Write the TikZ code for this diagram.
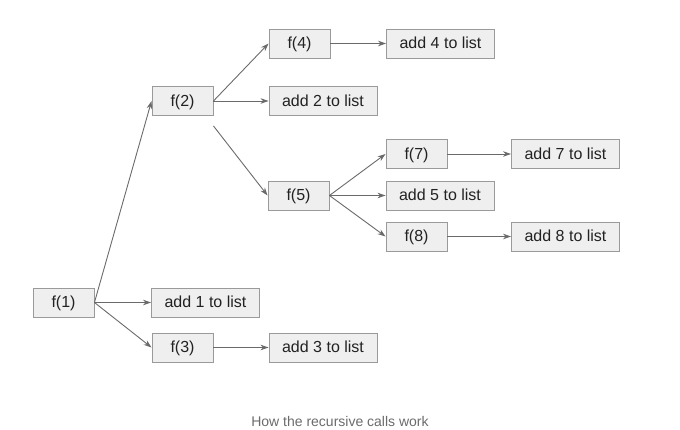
\documentclass[tikz,border=0pt]{standalone}
\usepackage{fontspec}
\setmainfont{Liberation Sans}
\usetikzlibrary{arrows.meta,calc}
\definecolor{boxfill}{HTML}{EFEFEF}
\definecolor{boxline}{HTML}{9A9A9A}
\definecolor{arrowc}{HTML}{6A6A6A}
\definecolor{txt}{HTML}{222222}
\definecolor{captc}{HTML}{6B6B6B}
\begin{document}
\begin{tikzpicture}[x=1pt,y=-1pt,
  box/.style={draw=boxline,fill=boxfill,line width=0.9pt,minimum height=29pt,inner sep=0pt,
    font=\fontsize{16}{18}\selectfont,text=txt,anchor=center,text height=12pt,text depth=1.5pt},
  fbox/.style={box,minimum width=61pt},
  lbox/.style={box,minimum width=108pt},
  arr/.style={draw=arrowc,line width=0.9pt,-{Stealth[length=8pt,width=5.5pt]}}]
\useasboundingbox (0,0) rectangle (680,430);
\node[fbox] (f1) at (63.5,302.5) {f(1)};
\node[lbox] (a1) at (205.5,302.5) {add 1 to list};
\node[fbox] (f3) at (182.5,347.5) {f(3)};
\node[lbox] (a3) at (323,347.5) {add 3 to list};
\node[fbox] (f2) at (182.5,101) {f(2)};
\node[lbox] (a2) at (323,101) {add 2 to list};
\node[fbox] (f4) at (299.5,43.5) {f(4)};
\node[lbox] (a4) at (440.5,43.5) {add 4 to list};
\node[fbox] (f5) at (298.5,195.5) {f(5)};
\node[lbox] (a5) at (440,195.5) {add 5 to list};
\node[fbox] (f7) at (416.5,154) {f(7)};
\node[lbox] (a7) at (565.5,154) {add 7 to list};
\node[fbox] (f8) at (416.5,236.5) {f(8)};
\node[lbox] (a8) at (565.5,236.5) {add 8 to list};
\coordinate (f2s) at ($(f2.south east)+(0,10)$);
\draw[arr] (f1.east) -- (f2.west);
\draw[arr] (f1.east) -- (a1.west);
\draw[arr] (f1.east) -- (f3.west);
\draw[arr] (f3.east) -- (a3.west);
\draw[arr] (f2.east) -- (f4.west);
\draw[arr] (f2.east) -- (a2.west);
\draw[arr] (f2s) -- (f5.west);
\draw[arr] (f4.east) -- (a4.west);
\draw[arr] (f5.east) -- (f7.west);
\draw[arr] (f5.east) -- (a5.west);
\draw[arr] (f5.east) -- (f8.west);
\draw[arr] (f7.east) -- (a7.west);
\draw[arr] (f8.east) -- (a8.west);
\node[font=\fontsize{14}{16}\selectfont,text=captc] (cap) at (340,421) {How the recursive calls work};
\end{tikzpicture}
\end{document}
